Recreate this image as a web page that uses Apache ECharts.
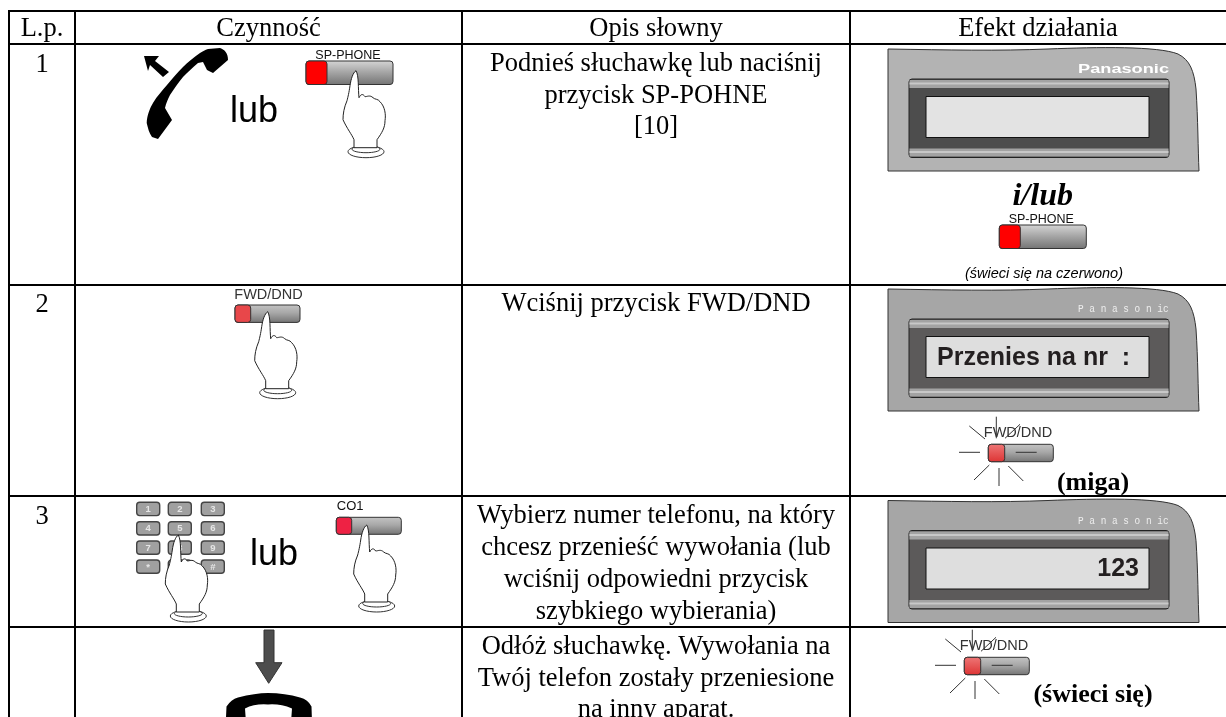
<!DOCTYPE html>
<html>
<head>
<meta charset="utf-8">
<title>Tabela</title>
<script src="https://cdn.jsdelivr.net/npm/echarts@6/dist/echarts.min.js"></script>
<style>
  html, body { margin: 0; padding: 0; background: #fff; }
  #chartBox { width: 1226px; height: 717px; }
</style>
</head>
<body>
<div id="chartBox"></div>
<script>
// tresc tabeli
const headers = ['L.p.', 'Czynność', 'Opis słowny', 'Efekt działania'];
const rowNumbers = ['1', '2', '3'];
const row1Lines = ['Podnieś słuchawkę lub naciśnij', 'przycisk SP-POHNE', '[10]'];
const row2Lines = ['Wciśnij przycisk FWD/DND'];
const row3Lines = ['Wybierz numer telefonu, na który', 'chcesz przenieść wywołania (lub', 'wciśnij odpowiedni przycisk', 'szybkiego wybierania)'];
const row4Lines = ['Odłóż słuchawkę. Wywołania na', 'Twój telefon zostały przeniesione', 'na inny aparat.'];
const keyLabels = ['1', '2', '3', '4', '5', '6', '7', '8', '9', '*', '0', '#'];

// linie siatki na osiach (w pikselach obrazka)
const colEdges = [9, 75, 462, 850];
const rowEdges = [11, 44, 285, 496, 627];
// przesuniecie pierwszej linii tekstu w wierszu
const rowTextTop = [20, 19, 20.5, 20];

const SERIF = '"Liberation Serif"';
const SANS = '"Liberation Sans"';

function txt (x, y, text, font, fill, align) {
  return {
    type: 'text', x: x, y: y, silent: true,
    style: { text: text, font: font, fill: fill || '#000', align: align || 'center', textAlign: align || 'center', verticalAlign: 'middle', textVerticalAlign: 'middle' }
  };
}
function path (d, fill, stroke, lw) {
  return { type: 'path', silent: true, shape: { pathData: d }, style: { fill: fill, stroke: stroke || null, lineWidth: lw || 1 } };
}
function rect (x, y, w, h, r, fill, stroke, lw) {
  return { type: 'rect', silent: true, shape: { x: x, y: y, width: w, height: h, r: r || 0 }, style: { fill: fill, stroke: stroke || null, lineWidth: lw || 1 } };
}
function seg (x1, y1, x2, y2, color, lw) {
  return { type: 'line', silent: true, shape: { x1: x1, y1: y1, x2: x2, y2: y2 }, style: { stroke: color || '#333', lineWidth: lw || 1 } };
}
function gray (c1, c2, c3) {
  return new echarts.graphic.LinearGradient(0, 0, 0, 1, [
    { offset: 0, color: c1 }, { offset: 0.45, color: c2 }, { offset: 1, color: c3 }
  ]);
}

// ikony rysowane lokalnie, pozycje przychodza z osi
function handset () {
  return [
    path('M26.7 103 C27 95 30 88 33 83 C37 76 42 71 47 65 C52 59 57 53 63 47 C68 42 74 37 80 33 C83 31 85 30 88 29 L100 28 C105 30 108 33 108 40 L93 53 L87 50 L83 42 L78 43 C73 47 68 52 63 57 C58 63 54 69 50 75 C48 79 46 83 45 88 L52 100 L38 119 L32 117 C29 113 28 108 26.7 103 Z', '#000'),
    path('M24 36 L39 36 L35 41 L49 52 L43 57 L30 45 L28 51 Z', '#000')
  ];
}
function hand () {
  return [
    { type: 'ellipse', silent: true, shape: { cx: 10, cy: 81, rx: 18, ry: 6 }, style: { fill: '#fff', stroke: '#333', lineWidth: 1 } },
    { type: 'ellipse', silent: true, shape: { cx: 10, cy: 78.5, rx: 14, ry: 3.5 }, style: { fill: '#fff', stroke: '#333', lineWidth: 1 } },
    path('M0 0 C-3 2 -5 8 -6 15 C-7 22 -8 26 -9 30 C-12 37 -13 43 -13 49 C-9 58 -4 64 -2 69 L-2 77 L21 77 L21 69 C26 62 29 57 29 50 C30 44 29 36 24 31 C22 28 19 29 17 27 C14 24 11 26 9 26 C7 23 5 23 3 27 C2 18 3 5 0 0 Z', '#fff', '#222', 1)
  ];
}
function button (w, h, redW, redColor, top) {
  return [
    rect(0, 0, w, h, 3, gray(top || '#cfcfcf', '#a8a8a8', '#737373'), '#333', 1),
    rect(0, 0, redW, h, 3, redColor, '#333', 1)
  ];
}
function spButton (label) {
  return button(87, 23.5, 21, '#f00', '#d6d6d6').concat([txt(42, -5.5, label, '12.5px ' + SANS, '#111')]);
}
function flashButton () {
  let items = [txt(29.7, -11, 'FWD/DND', '14.5px ' + SANS, '#333')];
  items = items.concat(button(65, 17.4, 16.4, new echarts.graphic.LinearGradient(0, 0, 0, 1, [{ offset: 0, color: '#e77' }, { offset: 1, color: '#d33' }]), '#c4c4c4'));
  return items.concat([
    seg(8, -27.6, 8, -6), seg(-19, -18.3, -3.3, -5.3), seg(16.7, -6, 31.7, -20),
    seg(-29.3, 8, -8.3, 8), seg(27.4, 8, 48.4, 8),
    seg(1, 20.7, -14.3, 35.7), seg(10.7, 23.7, 10.7, 41.7), seg(20, 21.7, 35, 36.7)
  ]);
}
function panel (bodyColor, bezelColor, lcdColor, brand, lcdText) {
  let items = [
    path('M0 0 C60 1 110 2 160 0 C210 -2 270 -3 290 5 C302 11 306 22 308 40 C310 70 310 100 311 122 L0 122 Z', bodyColor, '#333', 1),
    rect(21, 30, 260, 78.5, 3, bezelColor, '#222', 1),
    rect(21.5, 31, 259, 8, 0, '#a3a3a3'),
    rect(21.5, 33.5, 259, 2, 0, '#c8c8c8'),
    rect(21.5, 99.5, 259, 8, 0, '#a3a3a3'),
    rect(21.5, 102, 259, 2, 0, '#c8c8c8'),
    rect(38, 47.5, 223, 41, 0, lcdColor, '#111', 1)
  ];
  items = items.concat(brand);
  return items.concat(lcdText || []);
}
function keypad () {
  let xs = [136.7, 168.3, 201.3], ys = [502.3, 521.7, 541, 560];
  let items = [];
  keyLabels.forEach(function (label, i) {
    let cx = xs[i % 3] - xs[0], cy = ys[Math.floor(i / 3)] - ys[0];
    items.push(rect(cx, cy, 23, 13.3, 3, '#a0a0a0', '#444', 1.4));
    items.push(txt(cx + 11.5, cy + 7, label, 'bold 9.5px ' + SANS, '#e6e6e6'));
  });
  return items;
}
function downArrow () {
  return [path('M9 0 L19 0 L19 32.7 L27 32.7 L13.7 53.3 L0.7 32.7 L9 32.7 Z', '#4d4d4d', '#333', 1)];
}
function handsetDown () {
  return [path('M1 25 L1.5 14 Q6 7 13 5 Q30 0.5 43 0.5 Q60 0.5 75 5 Q83 7 86.5 14 L87 30 L66 30 L67 16 Q55 11 43 12 Q30 11 20 16 L21 30 L1 30 Z', '#000')];
}
const brandBold = [{ type: 'text', x: 190, y: 20, scaleX: 1.4, silent: true, style: { text: 'Panasonic', font: 'bold 13px ' + SANS, fill: '#fff', align: 'left', textAlign: 'left', verticalAlign: 'middle', textVerticalAlign: 'middle' } }];
function brandThin () {
  return [{ type: 'text', x: 190, y: 20, scaleX: 0.82, silent: true, style: { text: 'P a n a s o n ic', font: '11.5px "Liberation Mono"', fill: '#eee', align: 'left', textAlign: 'left', verticalAlign: 'middle', textVerticalAlign: 'middle' } }];
}

// kazdy wpis: punkt na osiach + zawartosc
const marks = [
  [120, 20, handset()],
  [230, 112.5, [txt(24, 0, 'lub', '36px ' + SANS)]],
  [306, 61, spButton('SP-PHONE')],
  [356, 70.7, hand()],
  [235, 305, button(65, 17.4, 15.7, '#e8474a', '#c4c4c4').concat([txt(33.5, -10.5, 'FWD/DND', '14.5px ' + SANS, '#333')])],
  [267.7, 311.7, hand()],
  [136.7, 502.3, keypad()],
  [178.3, 535, hand()],
  [250, 555.5, [txt(24, 0, 'lub', '36px ' + SANS)]],
  [336.3, 517.3, button(65, 17, 15.4, '#ee2244', '#c4c4c4').concat([txt(0.5, -11, 'CO1', '13px ' + SANS, '#111', 'left')])],
  [366.7, 525, hand()],
  [255, 630, downArrow()],
  [225, 692.5, handsetDown()],
  [888, 49, panel('#b3b3b3', '#4d4d4d', '#e3e3e3', brandBold)],
  [1042.7, 197, [txt(0, 0, 'i/lub', 'italic bold 32px ' + SERIF)]],
  [999.3, 225, spButton('SP-PHONE')],
  [1044, 273.5, [txt(0, 0, '(świeci się na czerwono)', 'italic 14.5px ' + SANS)]],
  [888, 289, panel('#a6a6a6', '#5c5a5a', '#dedede', brandThin(), [txt(49, 69, 'Przenies na nr  :', 'bold 25px ' + SANS, '#231f20', 'left')])],
  [988.3, 444.3, flashButton()],
  [1093, 483, [txt(0, 0, '(miga)', 'bold 26px ' + SERIF)]],
  [888, 500.5, panel('#a6a6a6', '#5c5a5a', '#dedede', brandThin(), [txt(251, 68.5, '123', 'bold 25px ' + SANS, '#231f20', 'right')])],
  [964.3, 657.3, flashButton()],
  [1093, 695, [txt(0, 0, '(świeci się)', 'bold 26px ' + SERIF)]]
];

// teksty komorek: kolumna, linia bazowa
const cellTexts = [];
headers.forEach(function (h, i) {
  let right = i < 3 ? colEdges[i + 1] : 1226;
  cellTexts.push([(colEdges[i] + right) / 2, 29.5, h]);
});
rowNumbers.forEach(function (n, i) {
  cellTexts.push([42, rowEdges[i + 1] + rowTextTop[i] + 1, n]);
});
[row1Lines, row2Lines, row3Lines, row4Lines].forEach(function (lines, r) {
  lines.forEach(function (line, i) {
    cellTexts.push([656, rowEdges[r + 1] + rowTextTop[r] + i * 31.7, line]);
  });
});

// linie tabeli
const hLines = rowEdges.map(function (y) { return [colEdges[0] - 1, y, 1226, y]; });
const vLines = colEdges.map(function (x) { return [x, rowEdges[0], x, 717]; });

let myChart = echarts.init(document.getElementById('chartBox'), null, { renderer: 'canvas' });
myChart.setOption({
  animation: false,
  backgroundColor: '#fff',
  grid: { left: 0, right: 0, top: 0, bottom: 0 },
  xAxis: { type: 'value', min: 0, max: 1226, show: false },
  yAxis: { type: 'value', min: 0, max: 717, inverse: true, show: false },
  series: [
    {
      type: 'custom',
      coordinateSystem: 'cartesian2d',
      silent: true,
      data: hLines.concat(vLines),
      renderItem: function (params, api) {
        let a = api.coord([api.value(0), api.value(1)]);
        let b = api.coord([api.value(2), api.value(3)]);
        return seg(a[0], a[1], b[0], b[1], '#000', 2);
      }
    },
    {
      type: 'custom',
      coordinateSystem: 'cartesian2d',
      silent: true,
      data: marks.map(function (m) { return [m[0], m[1]]; }),
      renderItem: function (params, api) {
        let p = api.coord([api.value(0), api.value(1)]);
        return { type: 'group', x: p[0], y: p[1], children: marks[params.dataIndex][2] };
      }
    },
    {
      type: 'custom',
      coordinateSystem: 'cartesian2d',
      silent: true,
      data: cellTexts.map(function (t) { return [t[0], t[1]]; }),
      renderItem: function (params, api) {
        let p = api.coord([api.value(0), api.value(1)]);
        return txt(p[0], p[1], cellTexts[params.dataIndex][2], '26.5px ' + SERIF);
      }
    }
  ]
});
</script>
</body>
</html>
